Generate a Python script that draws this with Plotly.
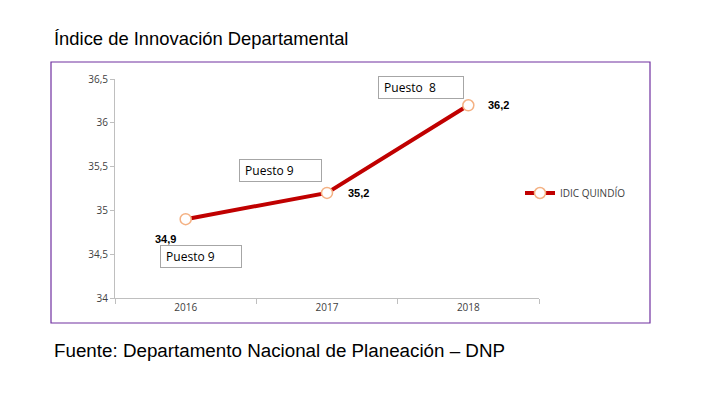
import plotly.graph_objects as go

years = ["2016", "2017", "2018"]
idic = [34.9, 35.2, 36.2]
value_labels = ["34,9", "35,2", "36,2"]
rank_labels = ["Puesto 9", "Puesto 9", "Puesto  8"]
series_name = "IDIC QUINDÍO"
title_text = "Índice de Innovación Departamental"
source_text = "Fuente: Departamento Nacional de Planeación – DNP"

W, H = 701, 394
L, R, T, B = 115, 162, 79, 96
PW, PH = W - L - R, H - T - B

def px(xp):
    return (xp - L) / PW

def py(yp):
    return (H - B - yp) / PH

fig = go.Figure()
fig.add_trace(go.Scatter(
    x=years, y=idic, mode="lines+markers", name=series_name,
    line=dict(color="#C00000", width=4),
    marker=dict(size=11, color="white", line=dict(color="#F4B183", width=1.5)),
    hoverinfo="skip",
))

# value labels
shifts = [(-20, -20), (31, 0), (30, 0)]
for i, (yr, v, lab) in enumerate(zip(years, idic, value_labels)):
    fig.add_annotation(x=i, y=v, text="<b>%s</b>" % lab, showarrow=False,
                       xshift=shifts[i][0], yshift=shifts[i][1],
                       font=dict(family="Liberation Sans", size=11, color="#000000"))

# rank boxes (positions in category-index / value coordinates)
box_x = [0.106, 0.67, 1.668]
box_y = [34.47, 35.46, 36.40]
box_w = [76, 77, 80]
for bx, by, bw, lab in zip(box_x, box_y, box_w, rank_labels):
    fig.add_annotation(x=bx, y=by, text="&nbsp;" + lab.replace("  ", "&nbsp; "), showarrow=False,
                       align="left", width=bw, height=17,
                       bordercolor="#A6A6A6", borderwidth=1, borderpad=2,
                       bgcolor="white",
                       font=dict(family="Open Sans", size=12, color="#000000"))

# title and source
fig.add_annotation(xref="paper", yref="paper", x=px(52), y=py(38),
                   xanchor="left", yanchor="middle", text=title_text, showarrow=False,
                   font=dict(family="Liberation Sans", size=18.4, color="#000000"))
fig.add_annotation(xref="paper", yref="paper", x=px(52), y=py(350),
                   xanchor="left", yanchor="middle", text=source_text, showarrow=False,
                   font=dict(family="Liberation Sans", size=18.8, color="#000000"))

# chart frame
fig.add_shape(type="rect", xref="paper", yref="paper",
              x0=px(51), x1=px(650), y0=py(323), y1=py(62),
              line=dict(color="#7030A0", width=1.2), fillcolor="rgba(0,0,0,0)", layer="below")

fig.update_layout(
    width=W, height=H,
    margin=dict(l=L, r=R, t=T, b=B),
    paper_bgcolor="white", plot_bgcolor="white",
    separators=",.",
    showlegend=True,
    legend=dict(x=px(520), y=py(193), xanchor="left", yanchor="middle",
                font=dict(family="Open Sans", size=10, color="#404040"),
                bgcolor="rgba(0,0,0,0)", itemwidth=30),
    xaxis=dict(type="category", range=[-0.5, 2.5], showgrid=False,
               showline=True, linecolor="#BFBFBF", linewidth=1,
               ticks="outside", tickson="boundaries", ticklen=5, tickcolor="#BFBFBF",
               tickfont=dict(family="Open Sans", size=10, color="#404040"), fixedrange=True),
    yaxis=dict(range=[34, 36.5], dtick=0.5, showgrid=False, zeroline=False,
               showline=True, linecolor="#BFBFBF", linewidth=1,
               ticks="outside", ticklen=4, tickcolor="#BFBFBF",
               tickfont=dict(family="Open Sans", size=10, color="#404040"), fixedrange=True),
)

fig.write_html("out.html", config={"displayModeBar": False},
               post_script="document.body.style.margin='0';")
